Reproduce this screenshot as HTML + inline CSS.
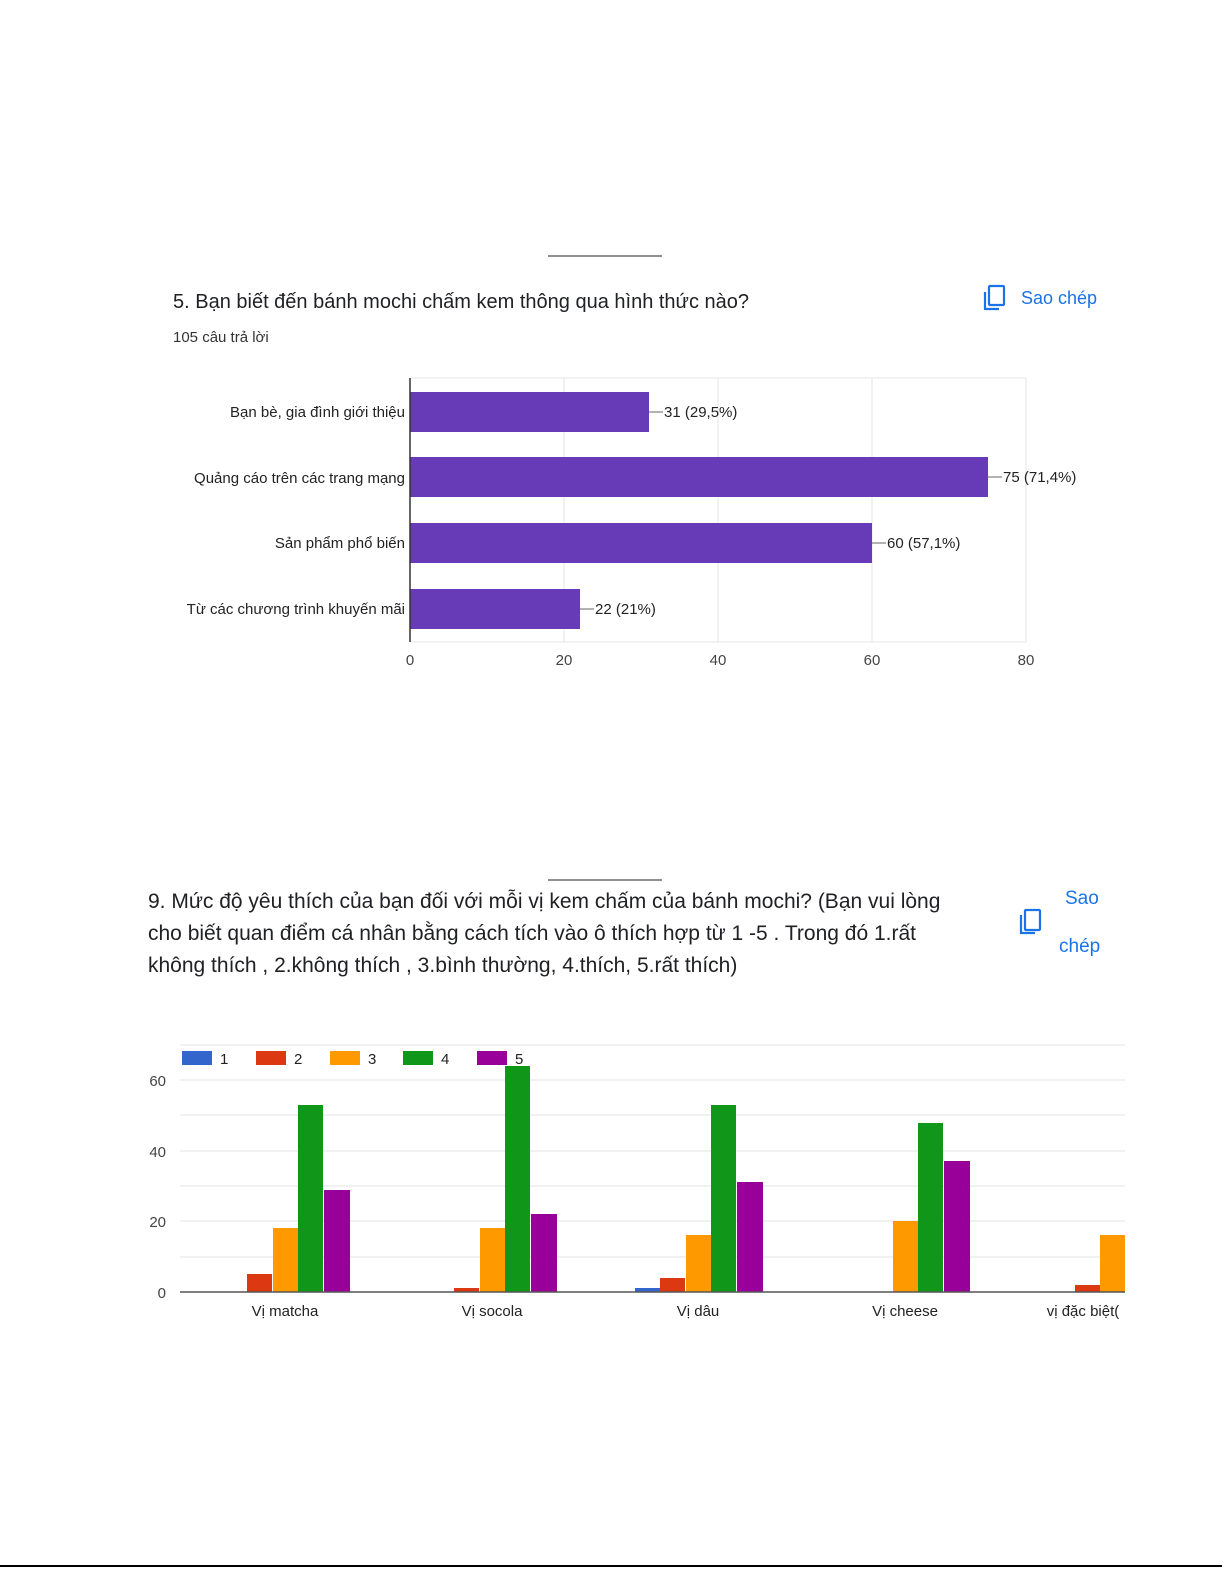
<!DOCTYPE html>
<html><head><meta charset="utf-8"><style>
body{margin:0;background:#fff;width:1225px;height:1585px;overflow:hidden;font-family:"Liberation Sans",sans-serif}
</style></head><body>
<svg width="1225" height="1585" xmlns="http://www.w3.org/2000/svg" font-family="Liberation Sans, sans-serif">
<line x1="548" y1="256" x2="662" y2="256" stroke="#222" stroke-width="1"/>
<line x1="548" y1="880" x2="662" y2="880" stroke="#222" stroke-width="1"/>
<text x="173" y="308" font-size="20" fill="#202124">5. Bạn biết đến bánh mochi chấm kem thông qua hình thức nào?</text>
<text x="173" y="342" font-size="15" fill="#333">105 câu trả lời</text>
<g fill="none" stroke="#1a73e8" stroke-width="2.2"><rect x="989" y="286" width="15" height="19" rx="1"/><path d="M985 292 v17 h14"/></g>
<text x="1021" y="304" font-size="18" fill="#1a73e8">Sao chép</text>
<g stroke="#e6e6e6" stroke-width="1"><line x1="410" y1="378" x2="1026" y2="378"/><line x1="564" y1="378" x2="564" y2="642"/><line x1="718" y1="378" x2="718" y2="642"/><line x1="872" y1="378" x2="872" y2="642"/><line x1="1026" y1="378" x2="1026" y2="642"/><line x1="410" y1="642" x2="1026" y2="642"/></g>
<g fill="#673ab7"><rect x="410" y="392" width="239" height="40"/><rect x="410" y="457" width="578" height="40"/><rect x="410" y="523" width="462" height="40"/><rect x="410" y="589" width="170" height="40"/></g>
<line x1="410" y1="378" x2="410" y2="642" stroke="#333" stroke-width="1.5"/>
<g font-size="15" fill="#222" text-anchor="end"><text x="405" y="417">Bạn bè, gia đình giới thiệu</text><text x="405" y="483">Quảng cáo trên các trang mạng</text><text x="405" y="548">Sản phẩm phổ biến</text><text x="405" y="614">Từ các chương trình khuyến mãi</text></g>
<g stroke="#666"><line x1="649" y1="412" x2="663" y2="412"/><line x1="988" y1="477" x2="1002" y2="477"/><line x1="872" y1="543" x2="886" y2="543"/><line x1="580" y1="609" x2="594" y2="609"/></g>
<g font-size="15" fill="#222"><text x="664" y="417">31 (29,5%)</text><text x="1003" y="482">75 (71,4%)</text><text x="887" y="548">60 (57,1%)</text><text x="595" y="614">22 (21%)</text></g>
<g font-size="15" fill="#444" text-anchor="middle"><text x="410" y="665">0</text><text x="564" y="665">20</text><text x="718" y="665">40</text><text x="872" y="665">60</text><text x="1026" y="665">80</text></g>
<g font-size="21" fill="#202124"><text x="148" y="908">9. Mức độ yêu thích của bạn đối với mỗi vị kem chấm của bánh mochi? (Bạn vui lòng</text><text x="148" y="940">cho biết quan điểm cá nhân bằng cách tích vào ô thích hợp từ 1 -5 . Trong đó 1.rất</text><text x="148" y="972">không thích , 2.không thích , 3.bình thường, 4.thích, 5.rất thích)</text></g>
<g fill="none" stroke="#1a73e8" stroke-width="2.2"><rect x="1025" y="910" width="15" height="20" rx="1"/><path d="M1021 915 v18 h14"/></g>
<text x="1065" y="904" font-size="19" fill="#1a73e8">Sao</text><text x="1059" y="952" font-size="19" fill="#1a73e8">chép</text>
<g stroke="#e3e3e3"><line x1="180" y1="1045" x2="1125" y2="1045"/><line x1="180" y1="1080" x2="1125" y2="1080"/><line x1="180" y1="1115" x2="1125" y2="1115"/><line x1="180" y1="1151" x2="1125" y2="1151"/><line x1="180" y1="1186" x2="1125" y2="1186"/><line x1="180" y1="1221" x2="1125" y2="1221"/><line x1="180" y1="1257" x2="1125" y2="1257"/></g>
<g font-size="15" fill="#444" text-anchor="end"><text x="166" y="1086">60</text><text x="166" y="1157">40</text><text x="166" y="1227">20</text><text x="166" y="1298">0</text></g>
<g><rect x="182" y="1051" width="30" height="14" fill="#3366cc"/><rect x="256" y="1051" width="30" height="14" fill="#dc3912"/><rect x="330" y="1051" width="30" height="14" fill="#ff9900"/><rect x="403" y="1051" width="30" height="14" fill="#109618"/><rect x="477" y="1051" width="30" height="14" fill="#990099"/></g>
<g font-size="15" fill="#222"><text x="220" y="1064">1</text><text x="294" y="1064">2</text><text x="368" y="1064">3</text><text x="441" y="1064">4</text><text x="515" y="1064">5</text></g>
<g>
<rect x="247" y="1274" width="25" height="18" fill="#dc3912"/><rect x="273" y="1228" width="25" height="64" fill="#ff9900"/><rect x="298" y="1105" width="25" height="187" fill="#109618"/><rect x="324" y="1190" width="26" height="102" fill="#990099"/>
<rect x="454" y="1288" width="25" height="4" fill="#dc3912"/><rect x="480" y="1228" width="25" height="64" fill="#ff9900"/><rect x="505" y="1066" width="25" height="226" fill="#109618"/><rect x="531" y="1214" width="26" height="78" fill="#990099"/>
<rect x="635" y="1288" width="25" height="4" fill="#3366cc"/><rect x="660" y="1278" width="25" height="14" fill="#dc3912"/><rect x="686" y="1235" width="25" height="57" fill="#ff9900"/><rect x="711" y="1105" width="25" height="187" fill="#109618"/><rect x="737" y="1182" width="26" height="110" fill="#990099"/>
<rect x="893" y="1221" width="25" height="71" fill="#ff9900"/><rect x="918" y="1123" width="25" height="169" fill="#109618"/><rect x="944" y="1161" width="26" height="131" fill="#990099"/>
<rect x="1075" y="1285" width="25" height="7" fill="#dc3912"/><rect x="1100" y="1235" width="25" height="57" fill="#ff9900"/>
</g>
<line x1="180" y1="1292" x2="1125" y2="1292" stroke="#555" stroke-width="1.5"/>
<g font-size="15" fill="#222" text-anchor="middle"><text x="285" y="1316">Vị matcha</text><text x="492" y="1316">Vị socola</text><text x="698" y="1316">Vị dâu</text><text x="905" y="1316">Vị cheese</text><text x="1083" y="1316">vị đặc biệt(</text></g>
<rect x="1125" y="1295" width="100" height="30" fill="#fff"/>
<line x1="0" y1="1566" x2="1222" y2="1566" stroke="#000" stroke-width="2"/>
</svg>
</body></html>
